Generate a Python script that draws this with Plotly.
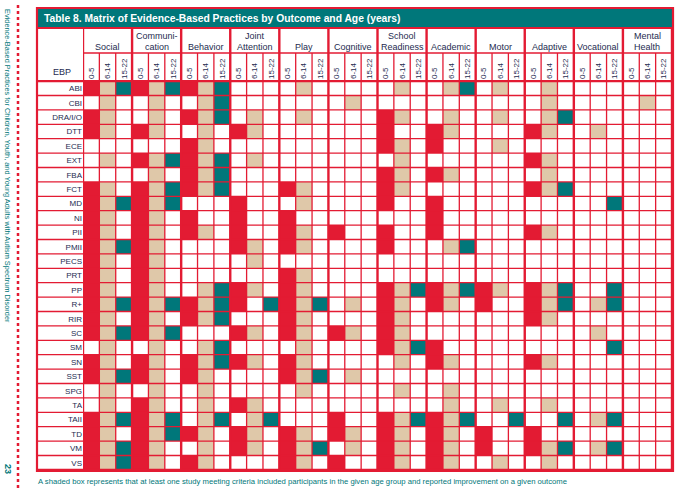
import plotly.graph_objects as go

W, H = 677, 491

ebp = ["ABI", "CBI", "DRA/I/O", "DTT", "ECE", "EXT", "FBA", "FCT", "MD", "NI", "PII",
       "PMII", "PECS", "PRT", "PP", "R+", "RIR", "SC", "SM", "SN", "SST", "SPG", "TA",
       "TAII", "TD", "VM", "VS"]
outcome_line1 = ["", "Communi-", "", "Joint", "", "", "School", "", "", "", "", "Mental"]
outcome_line2 = ["Social", "cation", "Behavior", "Attention", "Play", "Cognitive",
                 "Readiness", "Academic", "Motor", "Adaptive", "Vocational", "Health"]
ages = ["0-5", "6-14", "15-22"]

# one string per EBP: flags for ages 0-5, 6-14, 15-22
social = ["111", "010", "110", "110", "000", "010", "000", "110", "111", "110", "110", "111", "110", "110",
          "110", "111", "110", "111", "010", "110", "111", "010", "010", "111", "110", "111", "111"]
communication = ["111", "010", "010", "110", "000", "111", "010", "111", "111", "110", "110", "110", "110", "110",
                 "110", "111", "110", "111", "010", "110", "110", "010", "110", "111", "111", "110", "110"]
behavior = ["111", "011", "111", "010", "110", "111", "111", "111", "000", "100", "110", "000", "000", "000",
            "011", "111", "111", "000", "011", "111", "110", "010", "010", "011", "110", "010", "110"]
joint_attention = ["000", "000", "010", "110", "000", "010", "000", "000", "100", "100", "100", "110", "010", "000",
                   "110", "101", "000", "110", "000", "110", "000", "000", "110", "011", "110", "110", "000"]
play = ["010", "000", "010", "000", "000", "000", "000", "110", "010", "100", "110", "110", "000", "110",
        "110", "111", "110", "110", "010", "110", "111", "010", "000", "000", "110", "111", "110"]
cognitive = ["000", "010", "000", "000", "000", "000", "000", "000", "000", "000", "100", "000", "000", "000",
             "000", "010", "000", "110", "000", "000", "010", "000", "000", "100", "110", "010", "100"]
school_readiness = ["010", "000", "110", "100", "110", "010", "110", "110", "100", "000", "100", "100", "000", "000",
                    "111", "110", "110", "110", "111", "010", "000", "010", "000", "111", "110", "110", "110"]
academic = ["011", "000", "010", "110", "100", "000", "110", "000", "100", "100", "100", "011", "000", "000",
            "111", "110", "000", "000", "100", "110", "000", "010", "010", "111", "110", "110", "110"]
motor = ["010", "000", "010", "000", "010", "000", "000", "000", "000", "000", "000", "000", "000", "000",
         "110", "100", "000", "000", "000", "000", "000", "000", "010", "001", "100", "100", "010"]
adaptive = ["010", "010", "011", "110", "000", "110", "010", "111", "000", "000", "110", "000", "000", "000",
            "111", "111", "110", "000", "000", "110", "000", "000", "010", "001", "100", "111", "010"]
vocational = ["000", "000", "000", "010", "000", "000", "000", "000", "001", "000", "000", "000", "000", "000",
              "001", "011", "000", "010", "001", "000", "000", "000", "000", "011", "000", "011", "000"]
mental_health = ["000", "010", "000", "000", "000", "000", "000", "000", "000", "000", "000", "000", "000", "000",
                 "000", "000", "000", "000", "000", "000", "000", "000", "000", "000", "000", "000", "000"]

outcome_data = [social, communication, behavior, joint_attention, play, cognitive,
                school_readiness, academic, motor, adaptive, vocational, mental_health]

RED = "#E31B33"
TAN = "#DFC8A9"
TEAL = "#00777A"
NAVY = "#1E2B4F"
FONT = "Liberation Sans Narrow, Arial Narrow, Liberation Sans, sans-serif"

n_cols = len(outcome_data) * len(ages)
xs = list(range(n_cols))
z = []
for i in range(len(ebp)):
    row = []
    for g, data in enumerate(outcome_data):
        for a in range(len(ages)):
            row.append(int(data[i][a]) * (a + 1))
    z.append(row)

def px(x):
    return x / W

def py(y):
    return 1 - y / H

# layout geometry (pixels)
TL, TR = 37, 673          # table outer left/right
CL, CR = 83, 672          # cell area left/right
TOP, TITLE_B, HDR_MID, CELL_T, BOT = 8, 28, 53, 80, 471

fig = go.Figure(go.Heatmap(
    x=xs, y=ebp, z=z, zmin=0, zmax=3,
    colorscale=[[0, "white"], [1/6, "white"], [1/6, RED], [0.5, RED],
                [0.5, TAN], [5/6, TAN], [5/6, TEAL], [1, TEAL]],
    showscale=False, hoverinfo="skip"))

shapes = []
shapes.append(dict(type="rect", xref="paper", yref="paper", x0=px(TL), x1=px(TR),
                   y0=py(TITLE_B), y1=py(TOP), fillcolor=TEAL, line=dict(width=0), layer="above"))
for k in range(len(ebp) + 1):
    shapes.append(dict(type="line", xref="paper", yref="y", x0=px(TL), x1=px(TR),
                       y0=k - 0.5, y1=k - 0.5,
                       line=dict(color=RED, width=2.2 if k in (0, len(ebp)) else 1.3), layer="above"))
for c in range(n_cols + 1):
    major = (c % len(ages) == 0)
    shapes.append(dict(type="line", xref="x", yref="paper", x0=c - 0.5, x1=c - 0.5,
                       y0=py(TITLE_B if major else HDR_MID), y1=py(BOT),
                       line=dict(color=RED, width=2.4 if major else 1.3), layer="above"))
shapes.append(dict(type="line", xref="paper", yref="paper", x0=px(CL), x1=px(CR),
                   y0=py(HDR_MID), y1=py(HDR_MID), line=dict(color=RED, width=1.3), layer="above"))
shapes.append(dict(type="line", xref="paper", yref="paper", x0=px(TL), x1=px(TR),
                   y0=py(TITLE_B), y1=py(TITLE_B), line=dict(color=RED, width=2.2), layer="above"))
shapes.append(dict(type="rect", xref="paper", yref="paper", x0=px(TL), x1=px(TR),
                   y0=py(BOT), y1=py(TOP), line=dict(color=RED, width=2.2), layer="above"))
shapes.append(dict(type="line", xref="paper", yref="paper", x0=px(18), x1=px(18),
                   y0=py(488), y1=py(3), line=dict(color=RED, width=2.5, dash="dot"), layer="above"))

annotations = []
annotations.append(dict(xref="paper", yref="paper", x=px(42), y=py(18.5), xanchor="left", yanchor="middle",
                        text="<b>Table 8. Matrix of Evidence-Based Practices by Outcome and Age (years)</b>",
                        showarrow=False, font=dict(family=FONT, size=10.3, color="white")))
for g in range(len(outcome_line2)):
    xc = g * len(ages) + 1
    if outcome_line1[g]:
        annotations.append(dict(xref="x", yref="paper", x=xc, y=py(36), xanchor="center", yanchor="middle",
                                text=outcome_line1[g], showarrow=False,
                                font=dict(family=FONT, size=9, color=NAVY)))
    annotations.append(dict(xref="x", yref="paper", x=xc, y=py(47), xanchor="center", yanchor="middle",
                            text=outcome_line2[g], showarrow=False,
                            font=dict(family=FONT, size=9, color=NAVY)))
annotations.append(dict(xref="paper", yref="paper", x=px(62), y=py(72), xanchor="center", yanchor="middle",
                        text="EBP", showarrow=False, font=dict(family=FONT, size=9, color=NAVY)))
annotations.append(dict(xref="paper", yref="paper", x=px(8), y=py(166), xanchor="center", yanchor="middle",
                        text="Evidence-Based Practices for Children, Youth, and Young Adults with Autism Spectrum Disorder",
                        textangle=90, showarrow=False, font=dict(family=FONT, size=7.4, color=TEAL)))
annotations.append(dict(xref="paper", yref="paper", x=px(8), y=py(469), xanchor="center", yanchor="middle",
                        text="<b>23</b>", textangle=90, showarrow=False,
                        font=dict(family=FONT, size=9, color=TEAL)))
annotations.append(dict(xref="paper", yref="paper", x=px(36), y=py(481), xanchor="left", yanchor="middle",
                        text="A shaded box represents that at least one study meeting criteria included participants in the given age group and reported improvement on a given outcome",
                        showarrow=False, font=dict(family=FONT, size=7.7, color=TEAL)))

fig.update_layout(
    width=W, height=H, margin=dict(l=0, r=0, t=0, b=0),
    paper_bgcolor="white", plot_bgcolor="white", showlegend=False,
    shapes=shapes, annotations=annotations,
    xaxis=dict(domain=[px(CL), px(CR)], range=[-0.5, n_cols - 0.5], side="top",
               tickvals=xs, ticktext=ages * len(outcome_data), tickangle=-90,
               ticks="", showgrid=False, zeroline=False, showline=False, fixedrange=True,
               tickfont=dict(family=FONT, size=8, color=NAVY)),
    yaxis=dict(domain=[py(BOT), py(CELL_T)], type="category", autorange="reversed",
               ticks="", showgrid=False, zeroline=False, showline=False, fixedrange=True,
               tickfont=dict(family=FONT, size=8, color=NAVY)),
)

fig.write_html("out.html", config={"displayModeBar": False},
               post_script="document.body.style.margin='0';")
